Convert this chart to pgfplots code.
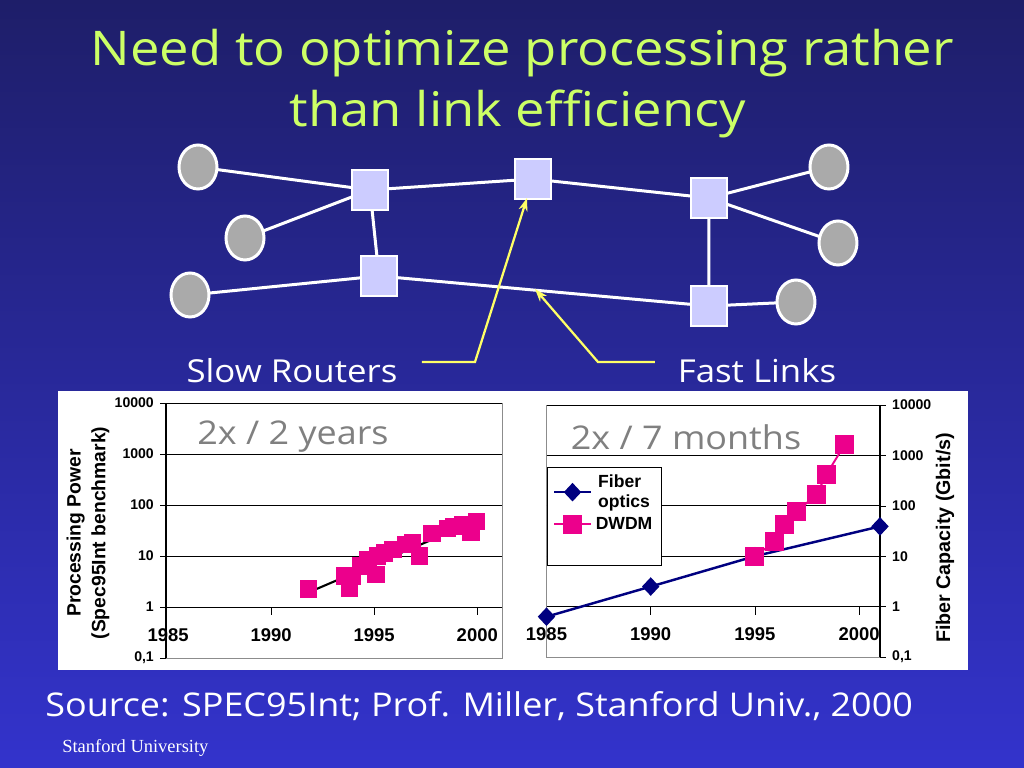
\documentclass[border=0pt]{standalone}
\usepackage{pgfplots}
\pgfplotsset{compat=1.18}
\usepackage{fontspec}
\setmainfont{Liberation Sans}
\newfontfamily\comic{Open Sans}
\newfontfamily\tnr{Liberation Serif}
\usetikzlibrary{arrows.meta}

\definecolor{titlegreen}{RGB}{204,255,102}
\definecolor{routerfill}{RGB}{204,204,255}
\definecolor{hostfill}{RGB}{170,170,170}
\definecolor{arrowyellow}{RGB}{255,255,102}
\definecolor{navyline}{RGB}{0,0,128}
\definecolor{bgtop}{RGB}{30,30,105}
\definecolor{bgbot}{RGB}{51,51,204}
\definecolor{framegray}{RGB}{140,140,140}

% wide hand-lettered look
\newcommand{\wide}[1]{\scalebox{1.1}[1]{#1}}

% SPEC95Int points
\pgfplotstableread{
year val
1991.8 2.26
1993.55 4.1
1993.8 2.4
1993.95 4.0
1994.35 6.4
1994.7 8.6
1995.08 4.4
1995.16 10
1995.5 11.6
1995.9 13.5
1996.5 16.8
1996.85 18
1997.2 10
1997.8 28
1998.55 35
1998.87 38
1999.3 41
1999.7 30
1999.95 48
}\specdata

\begin{document}
\begin{tikzpicture}
\shade[top color=bgtop, bottom color=bgbot] (0,0) rectangle (204.8mm,-153.6mm);

\begin{scope}[x=0.2mm, y=-0.2mm]
% title
\node[anchor=base, text=titlegreen, font=\comic\fontsize{27.2}{30}\selectfont] at (522,66) {\wide{Need to optimize processing rather}};
\node[anchor=base, text=titlegreen, font=\comic\fontsize{27.2}{30}\selectfont] at (518,127) {\wide{than link efficiency}};

% links
\begin{scope}[white, line width=0.6mm]
\draw (198,167) -- (370,190);
\draw (245,238) -- (370,190);
\draw (370,190) -- (533,179) -- (709,198);
\draw (370,190) -- (379,276);
\draw (190,295) -- (379,276) -- (709,306);
\draw (709,198) -- (829,167);
\draw (709,198) -- (838,243);
\draw (709,198) -- (709,306) -- (796,302);
\end{scope}

% hosts
\begin{scope}[fill=hostfill, draw=white, line width=0.6mm]
\filldraw (198,167) ellipse [x radius=19, y radius=22];
\filldraw (245,238) ellipse [x radius=19, y radius=22];
\filldraw (190,295) ellipse [x radius=19, y radius=22];
\filldraw (829,167) ellipse [x radius=19, y radius=22];
\filldraw (838,243) ellipse [x radius=19, y radius=22];
\filldraw (796,302) ellipse [x radius=19, y radius=22];
\end{scope}

% routers
\begin{scope}[fill=routerfill, draw=white, line width=0.5mm]
\filldraw (352,170) rectangle (388,210);
\filldraw (361,256) rectangle (397,296);
\filldraw (515,159) rectangle (551,199);
\filldraw (691,178) rectangle (727,218);
\filldraw (691,286) rectangle (727,326);
\end{scope}

% callouts
\draw[arrowyellow, line width=0.45mm, -{Stealth[length=2.6mm,width=1.8mm]}] (422,362) -- (475,362) -- (527,198);
\draw[arrowyellow, line width=0.45mm, -{Stealth[length=2.6mm,width=1.8mm]}] (655,362) -- (598,362) -- (535,289);
\node[anchor=base, text=white, font=\comic\fontsize{18}{21}\selectfont] at (292,383) {\wide{Slow Routers}};
\node[anchor=base, text=white, font=\comic\fontsize{18}{21}\selectfont] at (757,383) {\wide{Fast Links}};

% chart panel and plot frames
\fill[white] (58,391) rectangle (968,670);
\draw[framegray, line width=0.4pt] (166,403) rectangle (502,658);
\draw[framegray, line width=0.4pt] (546.5,405) rectangle (880,657);

% footer
\node[anchor=base west, text=white, font=\comic\fontsize{18.6}{21}\selectfont, inner sep=0pt] at (45,717) {\wide{Source: SPEC95Int; Prof. Miller, Stanford Univ., 2000}};
\node[anchor=base west, text=white, font=\tnr\fontsize{10.5}{12}\selectfont, inner sep=0pt] at (62,753) {Stanford University};
\end{scope}

% processing power
\begin{axis}[
  scale only axis,
  at={(33.2mm,-131.6mm)}, anchor=south west,
  width=67.2mm, height=51mm,
  xmin=1984.9, xmax=2001.2,
  ymode=log, ymin=0.1, ymax=10000,
  axis y line*=left, axis x line*=bottom,
  y axis line style={black, line width=0.6pt, -},
  x axis line style={draw=none},
  ytick={0.1,1,10,100,1000,10000},
  yticklabels={{0,1},1,10,100,1000,10000},
  minor tick length=0pt,
  tick align=outside, major tick length=1.2mm,
  ytick style={black},
  xtick={1985,1990,1995,2000},
  xticklabels={1985,1990,1995,2000},
  xtick style={draw=none},
  yticklabel style={font=\bfseries\fontsize{8}{9}\selectfont},
  xticklabel style={font=\bfseries\fontsize{10.5}{12}\selectfont, yshift=8.4mm},
]
\draw[black, line width=0.5pt] (axis cs:1984.9,1) -- (axis cs:2001.2,1);
\draw[black, line width=0.5pt] (axis cs:1984.9,10) -- (axis cs:2001.2,10);
\draw[black, line width=0.5pt] (axis cs:1984.9,100) -- (axis cs:2001.2,100);
\draw[black, line width=0.5pt] (axis cs:1984.9,1000) -- (axis cs:2001.2,1000);
\draw[black, line width=0.5pt] (axis cs:1984.9,10000) -- (axis cs:2001.2,10000);
\draw[black] (axis cs:1990,1) -- ++(0pt,-1.6mm);
\draw[black] (axis cs:1995,1) -- ++(0pt,-1.6mm);
\draw[black] (axis cs:2000,1) -- ++(0pt,-1.6mm);
\addplot[only marks, mark=square*, color=magenta, mark size=1.65mm] table[x=year, y=val] {\specdata};
\addplot[black, line width=1.2pt, no marks] coordinates {(1991.9,2.0) (2000,50)};
\end{axis}

% fiber capacity
\begin{axis}[
  scale only axis,
  at={(109.3mm,-131.4mm)}, anchor=south west,
  width=66.7mm, height=50.4mm,
  xmin=1985, xmax=2001,
  ymode=log, ymin=0.1, ymax=10000,
  axis y line*=right, axis x line*=bottom,
  y axis line style={black, line width=0.6pt, -},
  x axis line style={draw=none},
  ytick={0.1,1,10,100,1000,10000},
  yticklabels={{0,1},1,10,100,1000,10000},
  minor tick length=0pt,
  tick align=outside, major tick length=1.2mm,
  ytick style={black},
  xtick={1985,1990,1995,2000},
  xticklabels={1985,1990,1995,2000},
  xtick style={draw=none},
  yticklabel style={font=\bfseries\fontsize{8}{9}\selectfont},
  xticklabel style={font=\bfseries\fontsize{10.5}{12}\selectfont, yshift=8.4mm},
  clip=false,
  legend style={at={(0.002,0.754)}, anchor=north west, draw=black, fill=white,
    font=\bfseries\fontsize{10}{11.5}\selectfont, cells={align=left},
    inner xsep=3pt, inner ysep=2pt},
  legend image code/.code={\draw[mark repeat=2, mark phase=2] plot coordinates {(0cm,0cm) (0.37cm,0cm) (0.74cm,0cm)};},
]
\draw[black, line width=0.5pt] (axis cs:1985,1) -- (axis cs:2001,1);
\draw[black, line width=0.5pt] (axis cs:1985,10) -- (axis cs:2001,10);
\draw[black, line width=0.5pt] (axis cs:1985,100) -- (axis cs:2001,100);
\draw[black, line width=0.5pt] (axis cs:1985,1000) -- (axis cs:2001,1000);
\draw[black, line width=0.5pt] (axis cs:1985,10000) -- (axis cs:2001,10000);
\draw[black] (axis cs:1990,1) -- ++(0pt,-1.6mm);
\draw[black] (axis cs:1995,1) -- ++(0pt,-1.6mm);
\draw[black] (axis cs:2000,1) -- ++(0pt,-1.6mm);
\addplot[navyline, line width=1.4pt, mark=diamond*, mark size=1.5mm, mark options={xscale=1.25}] coordinates {
  (1985,0.63) (1990,2.5) (1995,10) (2001,39)};
\addlegendentry{Fiber\\optics}
\addplot[magenta, line width=1.1pt, mark=square*, mark size=1.7mm] coordinates {
  (1995,10) (1995.96,19.6) (1996.44,42) (1997,77) (1997.95,166) (1998.43,420) (1999.3,1620)};
\addlegendentry{DWDM}
\addlegendimage{empty legend}
\addlegendentry{\rule{0pt}{3.3mm}}
\end{axis}

\begin{scope}[x=0.2mm, y=-0.2mm]
\node[text=gray, font=\comic\fontsize{18.6}{21}\selectfont] at (293,437) {\wide{2x / 2 years}};
\node[text=gray, font=\comic\fontsize{18.6}{21}\selectfont] at (686,437) {\wide{2x / 7 months}};
\node[rotate=90, align=center, font=\bfseries\fontsize{11}{14}\selectfont] at (88,533) {Processing Power\\(Spec95Int benchmark)};
\node[rotate=90, font=\bfseries\fontsize{11.2}{13}\selectfont] at (945,538) {Fiber Capacity (Gbit/s)};
\end{scope}

\pgfresetboundingbox
\useasboundingbox (0,0) rectangle (204.8mm,-153.6mm);
\end{tikzpicture}
\end{document}
